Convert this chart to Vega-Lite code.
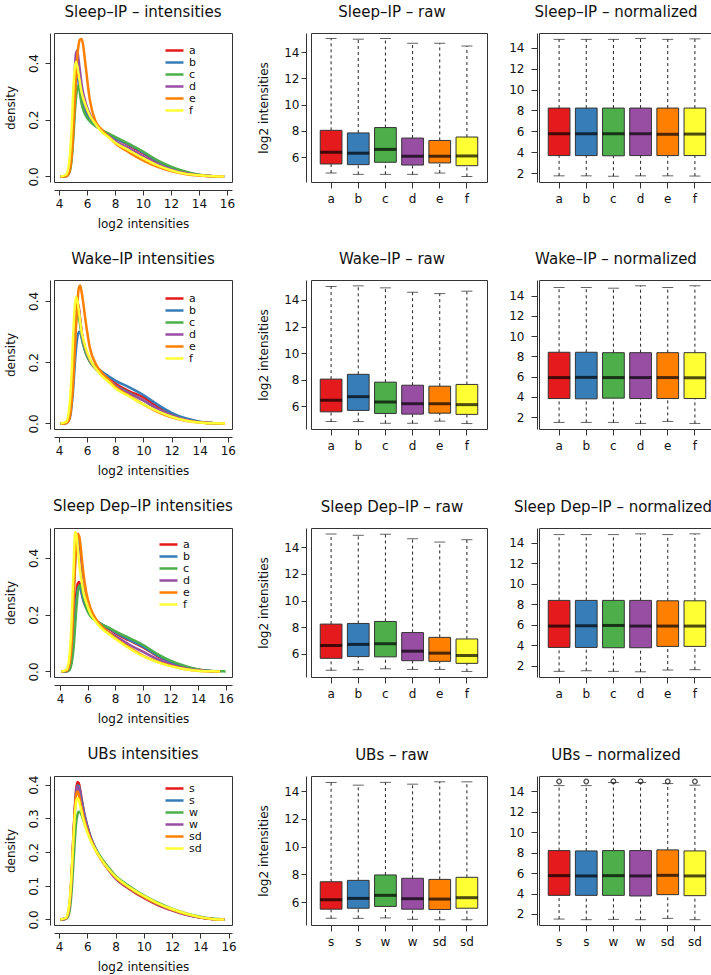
{
"$schema": "https://vega.github.io/schema/vega-lite/v6.json",
"background": "white",
"padding": {"left": 3, "top": 4, "right": 1, "bottom": 2},
"config": {
  "font": "DejaVu Sans",
  "view": {"stroke": "#333", "strokeWidth": 1},
  "axis": {"grid": false, "domainColor": "#333", "tickColor": "#333", "labelColor": "#111", "titleColor": "#111", "labelFontSize": 12, "titleFontSize": 12, "titleFontWeight": "normal", "tickSize": 5, "labelOverlap": false, "labelFlush": false},
  "axisX": {"labelAngle": 0},
  "title": {"fontSize": 15, "fontWeight": "normal", "color": "#111", "frame": "group", "offset": 13},
  "legend": {"orient": "none", "symbolType": "M-1.8,0H1.8", "symbolStrokeWidth": 2.5, "symbolSize": 100, "labelFontSize": 11, "rowPadding": 0, "labelOffset": 8, "labelColor": "#111"}
},
"resolve": {"scale": {"color": "independent", "fill": "independent"}, "legend": {"color": "independent", "fill": "independent"}},
"datasets": {
  "d1": [
    {"x":4.1,"a":0,"b":0,"c":0,"d":0,"e":0,"f":0},
    {"x":4.5,"a":0.002,"b":0.001,"c":0.001,"d":0.003,"e":0.001,"f":0.006},
    {"x":4.7,"a":0.015,"b":0.01,"c":0.01,"d":0.02,"e":0.01,"f":0.04},
    {"x":4.8,"a":0.04,"b":0.03,"c":0.025,"d":0.05,"e":0.03,"f":0.09},
    {"x":4.9,"a":0.09,"b":0.07,"c":0.06,"d":0.11,"e":0.07,"f":0.17},
    {"x":5.0,"a":0.18,"b":0.14,"c":0.12,"d":0.22,"e":0.14,"f":0.28},
    {"x":5.1,"a":0.28,"b":0.23,"c":0.2,"d":0.35,"e":0.24,"f":0.37},
    {"x":5.2,"a":0.35,"b":0.31,"c":0.27,"d":0.43,"e":0.34,"f":0.405},
    {"x":5.3,"a":0.37,"b":0.345,"c":0.31,"d":0.444,"e":0.42,"f":0.39},
    {"x":5.4,"a":0.35,"b":0.345,"c":0.32,"d":0.41,"e":0.465,"f":0.36},
    {"x":5.5,"a":0.31,"b":0.31,"c":0.29,"d":0.37,"e":0.483,"f":0.33},
    {"x":5.6,"a":0.28,"b":0.28,"c":0.26,"d":0.33,"e":0.485,"f":0.3},
    {"x":5.7,"a":0.26,"b":0.255,"c":0.24,"d":0.3,"e":0.47,"f":0.28},
    {"x":5.9,"a":0.23,"b":0.225,"c":0.215,"d":0.26,"e":0.39,"f":0.25},
    {"x":6.2,"a":0.2,"b":0.2,"c":0.195,"d":0.22,"e":0.27,"f":0.215},
    {"x":6.6,"a":0.18,"b":0.18,"c":0.178,"d":0.185,"e":0.195,"f":0.185},
    {"x":7.0,"a":0.165,"b":0.165,"c":0.165,"d":0.163,"e":0.168,"f":0.16},
    {"x":7.5,"a":0.15,"b":0.15,"c":0.152,"d":0.145,"e":0.142,"f":0.14},
    {"x":8,"a":0.135,"b":0.135,"c":0.14,"d":0.125,"e":0.118,"f":0.12},
    {"x":9,"a":0.11,"b":0.112,"c":0.115,"d":0.1,"e":0.085,"f":0.092},
    {"x":10,"a":0.082,"b":0.085,"c":0.088,"d":0.072,"e":0.057,"f":0.065},
    {"x":11,"a":0.052,"b":0.055,"c":0.058,"d":0.045,"e":0.035,"f":0.04},
    {"x":12,"a":0.03,"b":0.032,"c":0.035,"d":0.025,"e":0.019,"f":0.022},
    {"x":13,"a":0.014,"b":0.015,"c":0.018,"d":0.012,"e":0.009,"f":0.01},
    {"x":14,"a":0.005,"b":0.005,"c":0.006,"d":0.004,"e":0.003,"f":0.004},
    {"x":15,"a":0.001,"b":0.001,"c":0.001,"d":0.001,"e":0.0005,"f":0.001},
    {"x":15.8,"a":0,"b":0,"c":0,"d":0,"e":0,"f":0}
  ],
  "d2": [
    {"x":4.1,"a":0,"b":0,"c":0,"d":0,"e":0,"f":0},
    {"x":4.5,"a":0.002,"b":0.001,"c":0.002,"d":0.002,"e":0.001,"f":0.005},
    {"x":4.7,"a":0.02,"b":0.01,"c":0.018,"d":0.018,"e":0.01,"f":0.04},
    {"x":4.8,"a":0.05,"b":0.025,"c":0.045,"d":0.045,"e":0.03,"f":0.09},
    {"x":4.9,"a":0.11,"b":0.06,"c":0.1,"d":0.1,"e":0.07,"f":0.17},
    {"x":5.0,"a":0.2,"b":0.11,"c":0.18,"d":0.19,"e":0.13,"f":0.28},
    {"x":5.1,"a":0.3,"b":0.18,"c":0.27,"d":0.29,"e":0.22,"f":0.37},
    {"x":5.2,"a":0.37,"b":0.24,"c":0.33,"d":0.36,"e":0.31,"f":0.413},
    {"x":5.3,"a":0.395,"b":0.28,"c":0.36,"d":0.39,"e":0.39,"f":0.4},
    {"x":5.4,"a":0.38,"b":0.298,"c":0.35,"d":0.375,"e":0.44,"f":0.37},
    {"x":5.5,"a":0.34,"b":0.298,"c":0.32,"d":0.34,"e":0.45,"f":0.335},
    {"x":5.6,"a":0.3,"b":0.28,"c":0.29,"d":0.3,"e":0.43,"f":0.3},
    {"x":5.7,"a":0.27,"b":0.26,"c":0.265,"d":0.275,"e":0.4,"f":0.28},
    {"x":5.9,"a":0.235,"b":0.23,"c":0.23,"d":0.24,"e":0.33,"f":0.245},
    {"x":6.2,"a":0.205,"b":0.205,"c":0.2,"d":0.205,"e":0.245,"f":0.21},
    {"x":6.6,"a":0.18,"b":0.185,"c":0.178,"d":0.18,"e":0.195,"f":0.18},
    {"x":7.0,"a":0.163,"b":0.17,"c":0.16,"d":0.16,"e":0.168,"f":0.157},
    {"x":7.5,"a":0.147,"b":0.155,"c":0.143,"d":0.143,"e":0.145,"f":0.137},
    {"x":8,"a":0.13,"b":0.14,"c":0.125,"d":0.125,"e":0.12,"f":0.115},
    {"x":9,"a":0.105,"b":0.118,"c":0.1,"d":0.098,"e":0.09,"f":0.088},
    {"x":10,"a":0.085,"b":0.093,"c":0.075,"d":0.075,"e":0.062,"f":0.062},
    {"x":11,"a":0.055,"b":0.062,"c":0.048,"d":0.048,"e":0.038,"f":0.04},
    {"x":12,"a":0.03,"b":0.035,"c":0.027,"d":0.027,"e":0.02,"f":0.022},
    {"x":13,"a":0.014,"b":0.017,"c":0.012,"d":0.012,"e":0.009,"f":0.01},
    {"x":14,"a":0.005,"b":0.006,"c":0.004,"d":0.004,"e":0.003,"f":0.003},
    {"x":15,"a":0.001,"b":0.001,"c":0.001,"d":0.001,"e":0.0005,"f":0.0005},
    {"x":15.8,"a":0,"b":0,"c":0,"d":0,"e":0,"f":0}
  ],
  "d3": [
    {"x":4.1,"a":0,"b":0,"c":0,"d":0,"e":0,"f":0},
    {"x":4.5,"a":0.001,"b":0.001,"c":0.001,"d":0.003,"e":0.003,"f":0.008},
    {"x":4.7,"a":0.01,"b":0.008,"c":0.006,"d":0.03,"e":0.03,"f":0.06},
    {"x":4.8,"a":0.03,"b":0.025,"c":0.02,"d":0.07,"e":0.07,"f":0.13},
    {"x":4.9,"a":0.07,"b":0.06,"c":0.045,"d":0.15,"e":0.15,"f":0.25},
    {"x":5.0,"a":0.14,"b":0.12,"c":0.09,"d":0.27,"e":0.27,"f":0.38},
    {"x":5.1,"a":0.22,"b":0.19,"c":0.16,"d":0.38,"e":0.38,"f":0.49},
    {"x":5.2,"a":0.28,"b":0.25,"c":0.23,"d":0.45,"e":0.46,"f":0.48},
    {"x":5.3,"a":0.31,"b":0.29,"c":0.28,"d":0.47,"e":0.485,"f":0.43},
    {"x":5.4,"a":0.315,"b":0.3,"c":0.3,"d":0.45,"e":0.475,"f":0.38},
    {"x":5.5,"a":0.295,"b":0.29,"c":0.305,"d":0.41,"e":0.44,"f":0.34},
    {"x":5.6,"a":0.27,"b":0.27,"c":0.29,"d":0.36,"e":0.39,"f":0.31},
    {"x":5.7,"a":0.25,"b":0.25,"c":0.265,"d":0.32,"e":0.345,"f":0.28},
    {"x":5.9,"a":0.225,"b":0.225,"c":0.225,"d":0.26,"e":0.28,"f":0.245},
    {"x":6.2,"a":0.2,"b":0.2,"c":0.195,"d":0.215,"e":0.225,"f":0.205},
    {"x":6.6,"a":0.18,"b":0.18,"c":0.178,"d":0.18,"e":0.185,"f":0.175},
    {"x":7.0,"a":0.166,"b":0.167,"c":0.166,"d":0.158,"e":0.16,"f":0.153},
    {"x":7.5,"a":0.151,"b":0.153,"c":0.155,"d":0.14,"e":0.138,"f":0.133},
    {"x":8,"a":0.135,"b":0.138,"c":0.142,"d":0.125,"e":0.118,"f":0.115},
    {"x":9,"a":0.11,"b":0.112,"c":0.118,"d":0.095,"e":0.085,"f":0.082},
    {"x":10,"a":0.086,"b":0.088,"c":0.094,"d":0.07,"e":0.056,"f":0.054},
    {"x":11,"a":0.056,"b":0.058,"c":0.063,"d":0.045,"e":0.035,"f":0.034},
    {"x":12,"a":0.033,"b":0.034,"c":0.038,"d":0.026,"e":0.02,"f":0.019},
    {"x":13,"a":0.016,"b":0.017,"c":0.02,"d":0.012,"e":0.009,"f":0.009},
    {"x":14,"a":0.006,"b":0.006,"c":0.007,"d":0.004,"e":0.003,"f":0.003},
    {"x":15,"a":0.001,"b":0.001,"c":0.002,"d":0.001,"e":0.0005,"f":0.0005},
    {"x":15.6,"a":0,"b":0,"c":0.0008,"d":0,"e":0,"f":0},
    {"x":16.0,"a":null,"b":null,"c":0,"d":null,"e":null,"f":null}
  ],
  "d4": [
    {"x":4.1,"s1":0,"s2":0,"w1":0,"w2":0,"sd1":0,"sd2":0},
    {"x":4.5,"s1":0.003,"s2":0.003,"w1":0.002,"w2":0.003,"sd1":0.004,"sd2":0.005},
    {"x":4.7,"s1":0.025,"s2":0.025,"w1":0.015,"w2":0.025,"sd1":0.03,"sd2":0.035},
    {"x":4.8,"s1":0.06,"s2":0.06,"w1":0.04,"w2":0.06,"sd1":0.07,"sd2":0.075},
    {"x":4.9,"s1":0.13,"s2":0.12,"w1":0.085,"w2":0.125,"sd1":0.14,"sd2":0.14},
    {"x":5.0,"s1":0.22,"s2":0.21,"w1":0.15,"w2":0.22,"sd1":0.23,"sd2":0.22},
    {"x":5.1,"s1":0.31,"s2":0.3,"w1":0.22,"w2":0.31,"sd1":0.31,"sd2":0.295},
    {"x":5.2,"s1":0.38,"s2":0.37,"w1":0.28,"w2":0.37,"sd1":0.365,"sd2":0.345},
    {"x":5.3,"s1":0.408,"s2":0.398,"w1":0.31,"w2":0.395,"sd1":0.38,"sd2":0.36},
    {"x":5.4,"s1":0.405,"s2":0.397,"w1":0.32,"w2":0.39,"sd1":0.372,"sd2":0.355},
    {"x":5.5,"s1":0.385,"s2":0.378,"w1":0.318,"w2":0.37,"sd1":0.352,"sd2":0.338},
    {"x":5.6,"s1":0.36,"s2":0.355,"w1":0.31,"w2":0.345,"sd1":0.33,"sd2":0.32},
    {"x":5.7,"s1":0.335,"s2":0.332,"w1":0.298,"w2":0.322,"sd1":0.31,"sd2":0.302},
    {"x":5.9,"s1":0.295,"s2":0.293,"w1":0.275,"w2":0.287,"sd1":0.278,"sd2":0.272},
    {"x":6.2,"s1":0.25,"s2":0.25,"w1":0.243,"w2":0.247,"sd1":0.242,"sd2":0.238},
    {"x":6.6,"s1":0.208,"s2":0.21,"w1":0.21,"w2":0.207,"sd1":0.205,"sd2":0.205},
    {"x":7.0,"s1":0.178,"s2":0.18,"w1":0.183,"w2":0.177,"sd1":0.177,"sd2":0.178},
    {"x":7.5,"s1":0.148,"s2":0.15,"w1":0.155,"w2":0.148,"sd1":0.149,"sd2":0.15},
    {"x":8,"s1":0.122,"s2":0.124,"w1":0.13,"w2":0.123,"sd1":0.125,"sd2":0.127},
    {"x":9,"s1":0.09,"s2":0.092,"w1":0.098,"w2":0.092,"sd1":0.093,"sd2":0.095},
    {"x":10,"s1":0.064,"s2":0.066,"w1":0.072,"w2":0.066,"sd1":0.067,"sd2":0.07},
    {"x":11,"s1":0.043,"s2":0.045,"w1":0.05,"w2":0.045,"sd1":0.046,"sd2":0.048},
    {"x":12,"s1":0.027,"s2":0.028,"w1":0.032,"w2":0.028,"sd1":0.029,"sd2":0.031},
    {"x":13,"s1":0.014,"s2":0.015,"w1":0.018,"w2":0.015,"sd1":0.016,"sd2":0.017},
    {"x":14,"s1":0.006,"s2":0.006,"w1":0.008,"w2":0.006,"sd1":0.006,"sd2":0.007},
    {"x":15,"s1":0.001,"s2":0.001,"w1":0.002,"w2":0.001,"sd1":0.001,"sd2":0.001},
    {"x":15.7,"s1":0,"s2":0,"w1":0,"w2":0,"sd1":0,"sd2":0}
  ],
  "box": [
    {"p":"r1raw","s":"a","lo":4.8,"q1":5.49,"med":6.38,"q3":8.05,"hi":15.03},
    {"p":"r1raw","s":"b","lo":4.7,"q1":5.44,"med":6.31,"q3":7.85,"hi":14.98},
    {"p":"r1raw","s":"c","lo":4.7,"q1":5.62,"med":6.6,"q3":8.26,"hi":15.03},
    {"p":"r1raw","s":"d","lo":4.7,"q1":5.41,"med":6.08,"q3":7.46,"hi":14.67},
    {"p":"r1raw","s":"e","lo":4.8,"q1":5.57,"med":6.08,"q3":7.28,"hi":14.67},
    {"p":"r1raw","s":"f","lo":4.54,"q1":5.36,"med":6.1,"q3":7.54,"hi":14.46},
    {"p":"r1norm","s":"a","lo":1.74,"q1":3.68,"med":5.77,"q3":8.23,"hi":14.81},
    {"p":"r1norm","s":"b","lo":1.74,"q1":3.68,"med":5.77,"q3":8.23,"hi":14.81},
    {"p":"r1norm","s":"c","lo":1.7,"q1":3.66,"med":5.77,"q3":8.23,"hi":14.81},
    {"p":"r1norm","s":"d","lo":1.74,"q1":3.68,"med":5.77,"q3":8.23,"hi":14.9},
    {"p":"r1norm","s":"e","lo":1.74,"q1":3.68,"med":5.72,"q3":8.23,"hi":14.81},
    {"p":"r1norm","s":"f","lo":1.72,"q1":3.68,"med":5.74,"q3":8.23,"hi":14.86},
    {"p":"r2raw","s":"a","lo":4.86,"q1":5.59,"med":6.46,"q3":8.05,"hi":15.01},
    {"p":"r2raw","s":"b","lo":4.86,"q1":5.7,"med":6.73,"q3":8.41,"hi":15.06},
    {"p":"r2raw","s":"c","lo":4.73,"q1":5.47,"med":6.33,"q3":7.82,"hi":14.91},
    {"p":"r2raw","s":"d","lo":4.73,"q1":5.42,"med":6.2,"q3":7.59,"hi":14.58},
    {"p":"r2raw","s":"e","lo":4.89,"q1":5.49,"med":6.2,"q3":7.52,"hi":14.48},
    {"p":"r2raw","s":"f","lo":4.71,"q1":5.4,"med":6.13,"q3":7.65,"hi":14.66},
    {"p":"r2norm","s":"a","lo":1.47,"q1":3.83,"med":5.9,"q3":8.4,"hi":14.8},
    {"p":"r2norm","s":"b","lo":1.47,"q1":3.8,"med":5.92,"q3":8.4,"hi":14.8},
    {"p":"r2norm","s":"c","lo":1.47,"q1":3.87,"med":5.9,"q3":8.36,"hi":14.73},
    {"p":"r2norm","s":"d","lo":1.37,"q1":3.83,"med":5.9,"q3":8.36,"hi":14.97},
    {"p":"r2norm","s":"e","lo":1.57,"q1":3.83,"med":5.9,"q3":8.36,"hi":14.8},
    {"p":"r2norm","s":"f","lo":1.37,"q1":3.83,"med":5.88,"q3":8.36,"hi":14.97},
    {"p":"r3raw","s":"a","lo":4.73,"q1":5.64,"med":6.61,"q3":8.22,"hi":15.02},
    {"p":"r3raw","s":"b","lo":4.78,"q1":5.77,"med":6.69,"q3":8.27,"hi":14.92},
    {"p":"r3raw","s":"c","lo":4.85,"q1":5.75,"med":6.74,"q3":8.42,"hi":15.0},
    {"p":"r3raw","s":"d","lo":4.8,"q1":5.46,"med":6.18,"q3":7.58,"hi":14.66},
    {"p":"r3raw","s":"e","lo":4.8,"q1":5.41,"med":6.03,"q3":7.22,"hi":14.41},
    {"p":"r3raw","s":"f","lo":4.65,"q1":5.26,"med":5.85,"q3":7.1,"hi":14.59},
    {"p":"r3norm","s":"a","lo":1.47,"q1":3.8,"med":5.88,"q3":8.38,"hi":14.79},
    {"p":"r3norm","s":"b","lo":1.53,"q1":3.8,"med":5.91,"q3":8.38,"hi":14.79},
    {"p":"r3norm","s":"c","lo":1.47,"q1":3.77,"med":5.94,"q3":8.38,"hi":14.79},
    {"p":"r3norm","s":"d","lo":1.43,"q1":3.77,"med":5.88,"q3":8.38,"hi":14.86},
    {"p":"r3norm","s":"e","lo":1.6,"q1":3.9,"med":5.88,"q3":8.34,"hi":14.79},
    {"p":"r3norm","s":"f","lo":1.63,"q1":3.9,"med":5.88,"q3":8.34,"hi":14.86},
    {"p":"r4raw","s":"s1","lo":4.83,"q1":5.49,"med":6.18,"q3":7.47,"hi":14.64},
    {"p":"r4raw","s":"s2","lo":4.83,"q1":5.56,"med":6.27,"q3":7.57,"hi":14.44},
    {"p":"r4raw","s":"w1","lo":4.86,"q1":5.69,"med":6.49,"q3":7.96,"hi":14.64},
    {"p":"r4raw","s":"w2","lo":4.76,"q1":5.49,"med":6.25,"q3":7.72,"hi":14.51},
    {"p":"r4raw","s":"sd1","lo":4.73,"q1":5.47,"med":6.22,"q3":7.64,"hi":14.68},
    {"p":"r4raw","s":"sd2","lo":4.73,"q1":5.56,"med":6.32,"q3":7.79,"hi":14.68},
    {"p":"r4norm","s":"s1","lo":1.5,"q1":3.82,"med":5.75,"q3":8.2,"hi":14.56},
    {"p":"r4norm","s":"s2","lo":1.44,"q1":3.82,"med":5.72,"q3":8.17,"hi":14.56},
    {"p":"r4norm","s":"w1","lo":1.47,"q1":3.82,"med":5.75,"q3":8.2,"hi":14.86},
    {"p":"r4norm","s":"w2","lo":1.44,"q1":3.76,"med":5.72,"q3":8.2,"hi":14.86},
    {"p":"r4norm","s":"sd1","lo":1.57,"q1":3.89,"med":5.78,"q3":8.27,"hi":14.76},
    {"p":"r4norm","s":"sd2","lo":1.44,"q1":3.79,"med":5.72,"q3":8.17,"hi":14.6}
  ],
  "out": [
    {"s":"s1","v":14.93},{"s":"s1","v":15.0},
    {"s":"s2","v":14.93},{"s":"s2","v":15.0},
    {"s":"w1","v":14.96},{"s":"w1","v":15.0},
    {"s":"w2","v":14.96},{"s":"w2","v":15.0},
    {"s":"sd1","v":14.93},{"s":"sd1","v":15.0},
    {"s":"sd2","v":14.93},{"s":"sd2","v":15.0}
  ]
},
"columns": 3,
"spacing": {"row": 21, "column": 20},
"concat": [
  {
    "width": 178, "height": 149,
    "title": "Sleep–IP – intensities",
    "data": {"name": "d1"},
    "transform": [{"fold": ["a","b","c","d","e","f"], "as": ["sample","density"]}],
    "mark": {"type": "line", "interpolate": "monotone", "strokeWidth": 2.5},
    "encoding": {
      "x": {"field": "x", "type": "quantitative", "scale": {"domain": [3.64, 16.36], "nice": false, "zero": false}, "axis": {"values": [4,6,8,10,12,14,16], "title": "log2 intensities", "offset": 8, "labelPadding": 3, "titlePadding": 9}},
      "y": {"field": "density", "type": "quantitative", "scale": {"domain": [-0.0195, 0.506], "nice": false, "zero": false}, "axis": {"values": [0, 0.2, 0.4], "format": ".1f", "title": "density", "labelAngle": -90, "labelAlign": "center", "labelBaseline": "bottom", "offset": 4, "labelPadding": 5, "titlePadding": 10}},
      "color": {"field": "sample", "type": "nominal", "scale": {"domain": ["a","b","c","d","e","f"], "range": ["#E41A1C","#377EB8","#4DAF4A","#984EA3","#FF7F00","#FFFF33"]}, "legend": {"title": null, "legendX": 114, "legendY": 11}}
    }
  },
  {
    "width": 176, "height": 149,
    "title": {"text": "Sleep–IP – raw", "dx": -7},
    "data": {"name": "box"},
    "transform": [{"filter": "datum.p == 'r1raw'"}],
    "encoding": {"x": {"field": "s", "type": "nominal", "sort": null, "scale": {"paddingInner": 0.2, "paddingOuter": 0.34}, "axis": {"title": null, "offset": 0, "domain": false, "tickSize": 6, "labelPadding": 5}}},
    "layer": [
      {"mark": {"type": "rule", "strokeDash": [3,3], "color": "#222"}, "encoding": {"y": {"field": "q3", "type": "quantitative", "title": "log2 intensities", "scale": {"domain": [4.12, 15.45], "nice": false, "zero": false}, "axis": {"values": [6,8,10,12,14], "labelOverlap": false, "offset": 5, "labelPadding": 2, "titlePadding": 13}}, "y2": {"field": "hi"}}},
      {"mark": {"type": "rule", "strokeDash": [3,3], "color": "#222"}, "encoding": {"y": {"field": "lo", "type": "quantitative", "title": "log2 intensities", "axis": {"values": [6,8,10,12,14], "labelOverlap": false, "offset": 5, "labelPadding": 2, "titlePadding": 13}}, "y2": {"field": "q1"}}},
      {"mark": {"type": "tick", "size": 11, "thickness": 1, "color": "#222"}, "encoding": {"y": {"field": "hi", "type": "quantitative", "title": "log2 intensities", "axis": {"values": [6,8,10,12,14], "labelOverlap": false, "offset": 5, "labelPadding": 2, "titlePadding": 13}}}},
      {"mark": {"type": "tick", "size": 11, "thickness": 1, "color": "#222"}, "encoding": {"y": {"field": "lo", "type": "quantitative", "title": "log2 intensities", "axis": {"values": [6,8,10,12,14], "labelOverlap": false, "offset": 5, "labelPadding": 2, "titlePadding": 13}}}},
      {"mark": {"type": "bar", "stroke": "#333", "strokeWidth": 1}, "encoding": {"y": {"field": "q1", "type": "quantitative", "title": "log2 intensities", "axis": {"values": [6,8,10,12,14], "labelOverlap": false, "offset": 5, "labelPadding": 2, "titlePadding": 13}}, "y2": {"field": "q3"}, "fill": {"field": "s", "type": "nominal", "scale": {"domain": ["a","b","c","d","e","f"], "range": ["#E41A1C","#377EB8","#4DAF4A","#984EA3","#FF7F00","#FFFF33"]}, "legend": null}}},
      {"mark": {"type": "tick", "size": 22, "thickness": 3, "color": "#000"}, "encoding": {"y": {"field": "med", "type": "quantitative", "title": "log2 intensities", "axis": {"values": [6,8,10,12,14], "labelOverlap": false, "offset": 5, "labelPadding": 2, "titlePadding": 13}}}}
    ]
  },
  {
    "width": 176, "height": 149,
    "title": {"text": "Sleep–IP – normalized", "dx": -11},
    "data": {"name": "box"},
    "transform": [{"filter": "datum.p == 'r1norm'"}],
    "encoding": {"x": {"field": "s", "type": "nominal", "sort": null, "scale": {"paddingInner": 0.2, "paddingOuter": 0.34}, "axis": {"title": null, "offset": 0, "domain": false, "tickSize": 6, "labelPadding": 5}}},
    "layer": [
      {"mark": {"type": "rule", "strokeDash": [3,3], "color": "#222"}, "encoding": {"y": {"field": "q3", "type": "quantitative", "title": null, "scale": {"domain": [1.15, 15.42], "nice": false, "zero": false}, "axis": {"values": [2,4,6,8,10,12,14], "labelOverlap": false, "offset": 2, "tickSize": 6, "labelPadding": 7}}, "y2": {"field": "hi"}}},
      {"mark": {"type": "rule", "strokeDash": [3,3], "color": "#222"}, "encoding": {"y": {"field": "lo", "type": "quantitative", "title": null, "axis": {"values": [2,4,6,8,10,12,14], "labelOverlap": false, "offset": 2, "tickSize": 6, "labelPadding": 7}}, "y2": {"field": "q1"}}},
      {"mark": {"type": "tick", "size": 11, "thickness": 1, "color": "#222"}, "encoding": {"y": {"field": "hi", "type": "quantitative", "title": null, "axis": {"values": [2,4,6,8,10,12,14], "labelOverlap": false, "offset": 2, "tickSize": 6, "labelPadding": 7}}}},
      {"mark": {"type": "tick", "size": 11, "thickness": 1, "color": "#222"}, "encoding": {"y": {"field": "lo", "type": "quantitative", "title": null, "axis": {"values": [2,4,6,8,10,12,14], "labelOverlap": false, "offset": 2, "tickSize": 6, "labelPadding": 7}}}},
      {"mark": {"type": "bar", "stroke": "#333", "strokeWidth": 1}, "encoding": {"y": {"field": "q1", "type": "quantitative", "title": null, "axis": {"values": [2,4,6,8,10,12,14], "labelOverlap": false, "offset": 2, "tickSize": 6, "labelPadding": 7}}, "y2": {"field": "q3"}, "fill": {"field": "s", "type": "nominal", "scale": {"domain": ["a","b","c","d","e","f"], "range": ["#E41A1C","#377EB8","#4DAF4A","#984EA3","#FF7F00","#FFFF33"]}, "legend": null}}},
      {"mark": {"type": "tick", "size": 22, "thickness": 3, "color": "#000"}, "encoding": {"y": {"field": "med", "type": "quantitative", "title": null, "axis": {"values": [2,4,6,8,10,12,14], "labelOverlap": false, "offset": 2, "tickSize": 6, "labelPadding": 7}}}}
    ]
  },
  {
    "width": 178, "height": 149,
    "title": "Wake–IP intensities",
    "data": {"name": "d2"},
    "transform": [{"fold": ["a","b","c","d","e","f"], "as": ["sample","density"]}],
    "mark": {"type": "line", "interpolate": "monotone", "strokeWidth": 2.5},
    "encoding": {
      "x": {"field": "x", "type": "quantitative", "scale": {"domain": [3.64, 16.3], "nice": false, "zero": false}, "axis": {"values": [4,6,8,10,12,14,16], "title": "log2 intensities", "offset": 8, "labelPadding": 3, "titlePadding": 9}},
      "y": {"field": "density", "type": "quantitative", "scale": {"domain": [-0.018, 0.468], "nice": false, "zero": false}, "axis": {"values": [0, 0.2, 0.4], "format": ".1f", "title": "density", "labelAngle": -90, "labelAlign": "center", "labelBaseline": "bottom", "offset": 4, "labelPadding": 5, "titlePadding": 10}},
      "color": {"field": "sample", "type": "nominal", "scale": {"domain": ["a","b","c","d","e","f"], "range": ["#E41A1C","#377EB8","#4DAF4A","#984EA3","#FF7F00","#FFFF33"]}, "legend": {"title": null, "legendX": 114, "legendY": 12}}
    }
  },
  {
    "width": 176, "height": 149,
    "title": {"text": "Wake–IP – raw", "dx": -7},
    "data": {"name": "box"},
    "transform": [{"filter": "datum.p == 'r2raw'"}],
    "encoding": {"x": {"field": "s", "type": "nominal", "sort": null, "scale": {"paddingInner": 0.2, "paddingOuter": 0.34}, "axis": {"title": null, "offset": 0, "domain": false, "tickSize": 6, "labelPadding": 5}}},
    "layer": [
      {"mark": {"type": "rule", "strokeDash": [3,3], "color": "#222"}, "encoding": {"y": {"field": "q3", "type": "quantitative", "title": "log2 intensities", "scale": {"domain": [4.3, 15.5], "nice": false, "zero": false}, "axis": {"values": [6,8,10,12,14], "labelOverlap": false, "offset": 5, "labelPadding": 2, "titlePadding": 13}}, "y2": {"field": "hi"}}},
      {"mark": {"type": "rule", "strokeDash": [3,3], "color": "#222"}, "encoding": {"y": {"field": "lo", "type": "quantitative", "title": "log2 intensities", "axis": {"values": [6,8,10,12,14], "labelOverlap": false, "offset": 5, "labelPadding": 2, "titlePadding": 13}}, "y2": {"field": "q1"}}},
      {"mark": {"type": "tick", "size": 11, "thickness": 1, "color": "#222"}, "encoding": {"y": {"field": "hi", "type": "quantitative", "title": "log2 intensities", "axis": {"values": [6,8,10,12,14], "labelOverlap": false, "offset": 5, "labelPadding": 2, "titlePadding": 13}}}},
      {"mark": {"type": "tick", "size": 11, "thickness": 1, "color": "#222"}, "encoding": {"y": {"field": "lo", "type": "quantitative", "title": "log2 intensities", "axis": {"values": [6,8,10,12,14], "labelOverlap": false, "offset": 5, "labelPadding": 2, "titlePadding": 13}}}},
      {"mark": {"type": "bar", "stroke": "#333", "strokeWidth": 1}, "encoding": {"y": {"field": "q1", "type": "quantitative", "title": "log2 intensities", "axis": {"values": [6,8,10,12,14], "labelOverlap": false, "offset": 5, "labelPadding": 2, "titlePadding": 13}}, "y2": {"field": "q3"}, "fill": {"field": "s", "type": "nominal", "scale": {"domain": ["a","b","c","d","e","f"], "range": ["#E41A1C","#377EB8","#4DAF4A","#984EA3","#FF7F00","#FFFF33"]}, "legend": null}}},
      {"mark": {"type": "tick", "size": 22, "thickness": 3, "color": "#000"}, "encoding": {"y": {"field": "med", "type": "quantitative", "title": "log2 intensities", "axis": {"values": [6,8,10,12,14], "labelOverlap": false, "offset": 5, "labelPadding": 2, "titlePadding": 13}}}}
    ]
  },
  {
    "width": 176, "height": 149,
    "title": {"text": "Wake–IP – normalized", "dx": -11},
    "data": {"name": "box"},
    "transform": [{"filter": "datum.p == 'r2norm'"}],
    "encoding": {"x": {"field": "s", "type": "nominal", "sort": null, "scale": {"paddingInner": 0.2, "paddingOuter": 0.34}, "axis": {"title": null, "offset": 0, "domain": false, "tickSize": 6, "labelPadding": 5}}},
    "layer": [
      {"mark": {"type": "rule", "strokeDash": [3,3], "color": "#222"}, "encoding": {"y": {"field": "q3", "type": "quantitative", "title": null, "scale": {"domain": [0.82, 15.54], "nice": false, "zero": false}, "axis": {"values": [2,4,6,8,10,12,14], "labelOverlap": false, "offset": 2, "tickSize": 6, "labelPadding": 7}}, "y2": {"field": "hi"}}},
      {"mark": {"type": "rule", "strokeDash": [3,3], "color": "#222"}, "encoding": {"y": {"field": "lo", "type": "quantitative", "title": null, "axis": {"values": [2,4,6,8,10,12,14], "labelOverlap": false, "offset": 2, "tickSize": 6, "labelPadding": 7}}, "y2": {"field": "q1"}}},
      {"mark": {"type": "tick", "size": 11, "thickness": 1, "color": "#222"}, "encoding": {"y": {"field": "hi", "type": "quantitative", "title": null, "axis": {"values": [2,4,6,8,10,12,14], "labelOverlap": false, "offset": 2, "tickSize": 6, "labelPadding": 7}}}},
      {"mark": {"type": "tick", "size": 11, "thickness": 1, "color": "#222"}, "encoding": {"y": {"field": "lo", "type": "quantitative", "title": null, "axis": {"values": [2,4,6,8,10,12,14], "labelOverlap": false, "offset": 2, "tickSize": 6, "labelPadding": 7}}}},
      {"mark": {"type": "bar", "stroke": "#333", "strokeWidth": 1}, "encoding": {"y": {"field": "q1", "type": "quantitative", "title": null, "axis": {"values": [2,4,6,8,10,12,14], "labelOverlap": false, "offset": 2, "tickSize": 6, "labelPadding": 7}}, "y2": {"field": "q3"}, "fill": {"field": "s", "type": "nominal", "scale": {"domain": ["a","b","c","d","e","f"], "range": ["#E41A1C","#377EB8","#4DAF4A","#984EA3","#FF7F00","#FFFF33"]}, "legend": null}}},
      {"mark": {"type": "tick", "size": 22, "thickness": 3, "color": "#000"}, "encoding": {"y": {"field": "med", "type": "quantitative", "title": null, "axis": {"values": [2,4,6,8,10,12,14], "labelOverlap": false, "offset": 2, "tickSize": 6, "labelPadding": 7}}}}
    ]
  },
  {
    "width": 178, "height": 149,
    "title": "Sleep Dep–IP intensities",
    "data": {"name": "d3"},
    "transform": [{"fold": ["a","b","c","d","e","f"], "as": ["sample","density"]}],
    "mark": {"type": "line", "interpolate": "monotone", "strokeWidth": 2.5},
    "encoding": {
      "x": {"field": "x", "type": "quantitative", "scale": {"domain": [3.57, 16.46], "nice": false, "zero": false}, "axis": {"values": [4,6,8,10,12,14,16], "title": "log2 intensities", "offset": 8, "labelPadding": 3, "titlePadding": 9}},
      "y": {"field": "density", "type": "quantitative", "scale": {"domain": [-0.0194, 0.505], "nice": false, "zero": false}, "axis": {"values": [0, 0.2, 0.4], "format": ".1f", "title": "density", "labelAngle": -90, "labelAlign": "center", "labelBaseline": "bottom", "offset": 4, "labelPadding": 5, "titlePadding": 10}},
      "color": {"field": "sample", "type": "nominal", "scale": {"domain": ["a","b","c","d","e","f"], "range": ["#E41A1C","#377EB8","#4DAF4A","#984EA3","#FF7F00","#FFFF33"]}, "legend": {"title": null, "legendX": 108, "legendY": 10}}
    }
  },
  {
    "width": 176, "height": 149,
    "title": {"text": "Sleep Dep–IP – raw", "dx": -7},
    "data": {"name": "box"},
    "transform": [{"filter": "datum.p == 'r3raw'"}],
    "encoding": {"x": {"field": "s", "type": "nominal", "sort": null, "scale": {"paddingInner": 0.2, "paddingOuter": 0.34}, "axis": {"title": null, "offset": 0, "domain": false, "tickSize": 6, "labelPadding": 5}}},
    "layer": [
      {"mark": {"type": "rule", "strokeDash": [3,3], "color": "#222"}, "encoding": {"y": {"field": "q3", "type": "quantitative", "title": "log2 intensities", "scale": {"domain": [4.23, 15.47], "nice": false, "zero": false}, "axis": {"values": [6,8,10,12,14], "labelOverlap": false, "offset": 5, "labelPadding": 2, "titlePadding": 13}}, "y2": {"field": "hi"}}},
      {"mark": {"type": "rule", "strokeDash": [3,3], "color": "#222"}, "encoding": {"y": {"field": "lo", "type": "quantitative", "title": "log2 intensities", "axis": {"values": [6,8,10,12,14], "labelOverlap": false, "offset": 5, "labelPadding": 2, "titlePadding": 13}}, "y2": {"field": "q1"}}},
      {"mark": {"type": "tick", "size": 11, "thickness": 1, "color": "#222"}, "encoding": {"y": {"field": "hi", "type": "quantitative", "title": "log2 intensities", "axis": {"values": [6,8,10,12,14], "labelOverlap": false, "offset": 5, "labelPadding": 2, "titlePadding": 13}}}},
      {"mark": {"type": "tick", "size": 11, "thickness": 1, "color": "#222"}, "encoding": {"y": {"field": "lo", "type": "quantitative", "title": "log2 intensities", "axis": {"values": [6,8,10,12,14], "labelOverlap": false, "offset": 5, "labelPadding": 2, "titlePadding": 13}}}},
      {"mark": {"type": "bar", "stroke": "#333", "strokeWidth": 1}, "encoding": {"y": {"field": "q1", "type": "quantitative", "title": "log2 intensities", "axis": {"values": [6,8,10,12,14], "labelOverlap": false, "offset": 5, "labelPadding": 2, "titlePadding": 13}}, "y2": {"field": "q3"}, "fill": {"field": "s", "type": "nominal", "scale": {"domain": ["a","b","c","d","e","f"], "range": ["#E41A1C","#377EB8","#4DAF4A","#984EA3","#FF7F00","#FFFF33"]}, "legend": null}}},
      {"mark": {"type": "tick", "size": 22, "thickness": 3, "color": "#000"}, "encoding": {"y": {"field": "med", "type": "quantitative", "title": "log2 intensities", "axis": {"values": [6,8,10,12,14], "labelOverlap": false, "offset": 5, "labelPadding": 2, "titlePadding": 13}}}}
    ]
  },
  {
    "width": 176, "height": 149,
    "title": {"text": "Sleep Dep–IP – normalized", "anchor": "end", "dx": -3},
    "data": {"name": "box"},
    "transform": [{"filter": "datum.p == 'r3norm'"}],
    "encoding": {"x": {"field": "s", "type": "nominal", "sort": null, "scale": {"paddingInner": 0.2, "paddingOuter": 0.34}, "axis": {"title": null, "offset": 0, "domain": false, "tickSize": 6, "labelPadding": 5}}},
    "layer": [
      {"mark": {"type": "rule", "strokeDash": [3,3], "color": "#222"}, "encoding": {"y": {"field": "q3", "type": "quantitative", "title": null, "scale": {"domain": [0.92, 15.43], "nice": false, "zero": false}, "axis": {"values": [2,4,6,8,10,12,14], "labelOverlap": false, "offset": 2, "tickSize": 6, "labelPadding": 7}}, "y2": {"field": "hi"}}},
      {"mark": {"type": "rule", "strokeDash": [3,3], "color": "#222"}, "encoding": {"y": {"field": "lo", "type": "quantitative", "title": null, "axis": {"values": [2,4,6,8,10,12,14], "labelOverlap": false, "offset": 2, "tickSize": 6, "labelPadding": 7}}, "y2": {"field": "q1"}}},
      {"mark": {"type": "tick", "size": 11, "thickness": 1, "color": "#222"}, "encoding": {"y": {"field": "hi", "type": "quantitative", "title": null, "axis": {"values": [2,4,6,8,10,12,14], "labelOverlap": false, "offset": 2, "tickSize": 6, "labelPadding": 7}}}},
      {"mark": {"type": "tick", "size": 11, "thickness": 1, "color": "#222"}, "encoding": {"y": {"field": "lo", "type": "quantitative", "title": null, "axis": {"values": [2,4,6,8,10,12,14], "labelOverlap": false, "offset": 2, "tickSize": 6, "labelPadding": 7}}}},
      {"mark": {"type": "bar", "stroke": "#333", "strokeWidth": 1}, "encoding": {"y": {"field": "q1", "type": "quantitative", "title": null, "axis": {"values": [2,4,6,8,10,12,14], "labelOverlap": false, "offset": 2, "tickSize": 6, "labelPadding": 7}}, "y2": {"field": "q3"}, "fill": {"field": "s", "type": "nominal", "scale": {"domain": ["a","b","c","d","e","f"], "range": ["#E41A1C","#377EB8","#4DAF4A","#984EA3","#FF7F00","#FFFF33"]}, "legend": null}}},
      {"mark": {"type": "tick", "size": 22, "thickness": 3, "color": "#000"}, "encoding": {"y": {"field": "med", "type": "quantitative", "title": null, "axis": {"values": [2,4,6,8,10,12,14], "labelOverlap": false, "offset": 2, "tickSize": 6, "labelPadding": 7}}}}
    ]
  },
  {
    "width": 178, "height": 149,
    "title": "UBs intensities",
    "data": {"name": "d4"},
    "transform": [{"fold": ["s1","s2","w1","w2","sd1","sd2"], "as": ["sample","density"]}],
    "mark": {"type": "line", "interpolate": "monotone", "strokeWidth": 2.5},
    "encoding": {
      "x": {"field": "x", "type": "quantitative", "scale": {"domain": [3.65, 16.24], "nice": false, "zero": false}, "axis": {"values": [4,6,8,10,12,14,16], "title": "log2 intensities", "offset": 8, "labelPadding": 3, "titlePadding": 9}},
      "y": {"field": "density", "type": "quantitative", "scale": {"domain": [-0.0164, 0.426], "nice": false, "zero": false}, "axis": {"values": [0, 0.1, 0.2, 0.3, 0.4], "format": ".1f", "title": "density", "labelAngle": -90, "labelAlign": "center", "labelBaseline": "bottom", "offset": 4, "labelPadding": 5, "titlePadding": 10}},
      "color": {"field": "sample", "type": "nominal", "scale": {"domain": ["s1","s2","w1","w2","sd1","sd2"], "range": ["#E41A1C","#377EB8","#4DAF4A","#984EA3","#FF7F00","#FFFF33"]}, "legend": {"title": null, "legendX": 114, "legendY": 6, "labelExpr": "slice(datum.label, 0, -1)"}}
    }
  },
  {
    "width": 176, "height": 149,
    "title": {"text": "UBs – raw", "dx": -7},
    "data": {"name": "box"},
    "transform": [{"filter": "datum.p == 'r4raw'"}],
    "encoding": {"x": {"field": "s", "type": "nominal", "sort": null, "scale": {"paddingInner": 0.2, "paddingOuter": 0.34}, "axis": {"title": null, "offset": 0, "domain": false, "tickSize": 6, "labelPadding": 5, "labelExpr": "slice(datum.label, 0, -1)"}}},
    "layer": [
      {"mark": {"type": "rule", "strokeDash": [3,3], "color": "#222"}, "encoding": {"y": {"field": "q3", "type": "quantitative", "title": "log2 intensities", "scale": {"domain": [4.35, 15.1], "nice": false, "zero": false}, "axis": {"values": [6,8,10,12,14], "labelOverlap": false, "offset": 5, "labelPadding": 2, "titlePadding": 13}}, "y2": {"field": "hi"}}},
      {"mark": {"type": "rule", "strokeDash": [3,3], "color": "#222"}, "encoding": {"y": {"field": "lo", "type": "quantitative", "title": "log2 intensities", "axis": {"values": [6,8,10,12,14], "labelOverlap": false, "offset": 5, "labelPadding": 2, "titlePadding": 13}}, "y2": {"field": "q1"}}},
      {"mark": {"type": "tick", "size": 11, "thickness": 1, "color": "#222"}, "encoding": {"y": {"field": "hi", "type": "quantitative", "title": "log2 intensities", "axis": {"values": [6,8,10,12,14], "labelOverlap": false, "offset": 5, "labelPadding": 2, "titlePadding": 13}}}},
      {"mark": {"type": "tick", "size": 11, "thickness": 1, "color": "#222"}, "encoding": {"y": {"field": "lo", "type": "quantitative", "title": "log2 intensities", "axis": {"values": [6,8,10,12,14], "labelOverlap": false, "offset": 5, "labelPadding": 2, "titlePadding": 13}}}},
      {"mark": {"type": "bar", "stroke": "#333", "strokeWidth": 1}, "encoding": {"y": {"field": "q1", "type": "quantitative", "title": "log2 intensities", "axis": {"values": [6,8,10,12,14], "labelOverlap": false, "offset": 5, "labelPadding": 2, "titlePadding": 13}}, "y2": {"field": "q3"}, "fill": {"field": "s", "type": "nominal", "scale": {"domain": ["s1","s2","w1","w2","sd1","sd2"], "range": ["#E41A1C","#377EB8","#4DAF4A","#984EA3","#FF7F00","#FFFF33"]}, "legend": null}}},
      {"mark": {"type": "tick", "size": 22, "thickness": 3, "color": "#000"}, "encoding": {"y": {"field": "med", "type": "quantitative", "title": "log2 intensities", "axis": {"values": [6,8,10,12,14], "labelOverlap": false, "offset": 5, "labelPadding": 2, "titlePadding": 13}}}}
    ]
  },
  {
    "width": 176, "height": 149,
    "title": {"text": "UBs – normalized", "dx": -11},
    "encoding": {"x": {"field": "s", "type": "nominal", "sort": null, "scale": {"domain": ["s1","s2","w1","w2","sd1","sd2"], "paddingInner": 0.2, "paddingOuter": 0.34}, "axis": {"title": null, "offset": 0, "domain": false, "tickSize": 6, "labelPadding": 5, "labelExpr": "slice(datum.label, 0, -1)"}}},
    "layer": [
      {"data": {"name": "box"}, "transform": [{"filter": "datum.p == 'r4norm'"}], "mark": {"type": "rule", "strokeDash": [3,3], "color": "#222"}, "encoding": {"y": {"field": "q3", "type": "quantitative", "title": null, "scale": {"domain": [0.92, 15.5], "nice": false, "zero": false}, "axis": {"values": [2,4,6,8,10,12,14], "labelOverlap": false, "offset": 2, "tickSize": 6, "labelPadding": 7}}, "y2": {"field": "hi"}}},
      {"data": {"name": "box"}, "transform": [{"filter": "datum.p == 'r4norm'"}], "mark": {"type": "rule", "strokeDash": [3,3], "color": "#222"}, "encoding": {"y": {"field": "lo", "type": "quantitative", "title": null, "axis": {"values": [2,4,6,8,10,12,14], "labelOverlap": false, "offset": 2, "tickSize": 6, "labelPadding": 7}}, "y2": {"field": "q1"}}},
      {"data": {"name": "box"}, "transform": [{"filter": "datum.p == 'r4norm'"}], "mark": {"type": "tick", "size": 11, "thickness": 1, "color": "#222"}, "encoding": {"y": {"field": "hi", "type": "quantitative", "title": null, "axis": {"values": [2,4,6,8,10,12,14], "labelOverlap": false, "offset": 2, "tickSize": 6, "labelPadding": 7}}}},
      {"data": {"name": "box"}, "transform": [{"filter": "datum.p == 'r4norm'"}], "mark": {"type": "tick", "size": 11, "thickness": 1, "color": "#222"}, "encoding": {"y": {"field": "lo", "type": "quantitative", "title": null, "axis": {"values": [2,4,6,8,10,12,14], "labelOverlap": false, "offset": 2, "tickSize": 6, "labelPadding": 7}}}},
      {"data": {"name": "box"}, "transform": [{"filter": "datum.p == 'r4norm'"}], "mark": {"type": "bar", "stroke": "#333", "strokeWidth": 1}, "encoding": {"y": {"field": "q1", "type": "quantitative", "title": null, "axis": {"values": [2,4,6,8,10,12,14], "labelOverlap": false, "offset": 2, "tickSize": 6, "labelPadding": 7}}, "y2": {"field": "q3"}, "fill": {"field": "s", "type": "nominal", "scale": {"domain": ["s1","s2","w1","w2","sd1","sd2"], "range": ["#E41A1C","#377EB8","#4DAF4A","#984EA3","#FF7F00","#FFFF33"]}, "legend": null}}},
      {"data": {"name": "box"}, "transform": [{"filter": "datum.p == 'r4norm'"}], "mark": {"type": "tick", "size": 22, "thickness": 3, "color": "#000"}, "encoding": {"y": {"field": "med", "type": "quantitative", "title": null, "axis": {"values": [2,4,6,8,10,12,14], "labelOverlap": false, "offset": 2, "tickSize": 6, "labelPadding": 7}}}},
      {"data": {"name": "out"}, "mark": {"type": "point", "shape": "circle", "filled": false, "size": 22, "strokeWidth": 1, "color": "#222"}, "encoding": {"y": {"field": "v", "type": "quantitative", "title": null, "axis": {"values": [2,4,6,8,10,12,14], "labelOverlap": false, "offset": 2, "tickSize": 6, "labelPadding": 7}}}}
    ]
  }
]
}
